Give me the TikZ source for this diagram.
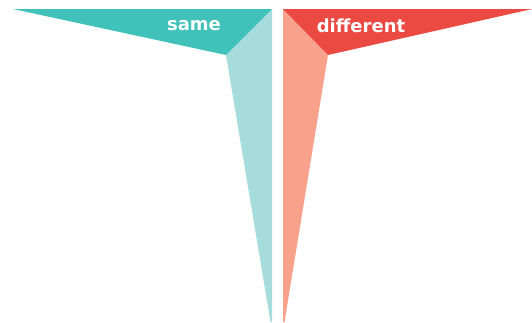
\documentclass[tikz,border=0pt]{standalone}
\usepackage{fontspec}
\setmainfont{DejaVu Sans}
\definecolor{tealdark}{RGB}{64,193,186}
\definecolor{teallight}{RGB}{166,220,219}
\definecolor{reddark}{RGB}{234,74,66}
\definecolor{salmon}{RGB}{248,162,140}
\tikzset{lbl/.style={text=white,font=\bfseries\fontsize{18}{21}\selectfont,inner sep=0pt}}
\begin{document}
\begin{tikzpicture}[x=1pt,y=-1pt]
\useasboundingbox (0,0) rectangle (532,322);
\fill[teallight] (272,9) -- (226,55) -- (270.5,322) -- (272,322) -- cycle;
\fill[tealdark] (13,9) -- (272,9) -- (226,55) -- cycle;
\fill[salmon] (283,9) -- (328,55) -- (284.5,322) -- (283,322) -- cycle;
\fill[reddark] (283,9) -- (532,9) -- (328,55) -- cycle;
\node[lbl] (same) at (194,26) {same};
\node[lbl] (diff) at (361,26) {different};
\end{tikzpicture}
\end{document}
